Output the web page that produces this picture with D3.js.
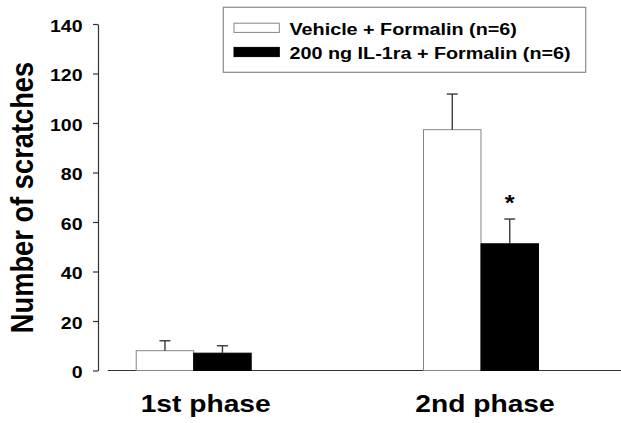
<!DOCTYPE html>
<html>
<head>
<meta charset="utf-8">
<script src="https://cdn.jsdelivr.net/npm/d3@7"></script>
<style>
  html, body { margin: 0; padding: 0; background: #fff; }
  svg { display: block; }
  text { font-family: "Liberation Sans", Arial, sans-serif; font-weight: bold; fill: #000; }
</style>
</head>
<body>
<svg id="chart" width="621" height="423"></svg>
<script>
// ---- data ----
const categories = ["1st phase", "2nd phase"];
const seriesNames = ["Vehicle + Formalin (n=6)", "200 ng IL-1ra + Formalin (n=6)"];
const vehicleMeans = [8, 97.3];
const vehicleErrors = [4, 14.4];
const il1raMeans = [7, 51.2];
const il1raErrors = [3, 10];
const significance = ["", "*"];           // marks above the IL-1ra bars
const yTicks = [0, 20, 40, 60, 80, 100, 120, 140];
const yLabel = "Number of scratches";

// ---- layout ----
const W = 621, H = 423;
const stretch = 1.15;  // horizontal text stretch seen in the reference
const svg = d3.select("#chart");

const y = d3.scaleLinear().domain([0, 140]).range([370.5, 24]);
const x = d3.scalePoint().domain(categories).range([193.7, 481]);
const xLabel = d3.scalePoint().domain(categories).range([205.7, 485]);
const sub = d3.scaleBand().domain(seriesNames).range([-57.5, 57.5]).paddingInner(0);
const fills = d3.scaleOrdinal().domain(seriesNames).range(["#ffffff", "#000000"]);
const strokes = d3.scaleOrdinal().domain(seriesNames).range(["#858585", "#000000"]);

const rows = [];
categories.forEach((c, i) => {
  rows.push({cat: c, s: seriesNames[0], v: vehicleMeans[i], e: vehicleErrors[i], sig: ""});
  rows.push({cat: c, s: seriesNames[1], v: il1raMeans[i], e: il1raErrors[i], sig: significance[i]});
});

// y axis (line + ticks from d3 axis, labels drawn separately for stretched text)
const yAxisG = svg.append("g").attr("transform", "translate(98,0)")
  .call(d3.axisLeft(y).tickValues(yTicks).tickSize(5).tickSizeOuter(0).tickFormat(""));
yAxisG.select(".domain").attr("stroke", "#333").attr("stroke-width", 1.2);
yAxisG.selectAll(".tick line").attr("stroke", "#333").attr("stroke-width", 1.2);
yAxisG.selectAll(".tick text").remove();

svg.append("g").selectAll("text").data(yTicks).join("text")
  .attr("text-anchor", "end")
  .attr("transform", d => `translate(82.5,${y(d) + 7.5}) scale(${stretch},1)`)
  .style("font-size", "17px")
  .text(d => d);

// x axis baseline (no ticks)
svg.append("line")
  .attr("x1", 107.7).attr("x2", W)
  .attr("y1", y(0)).attr("y2", y(0))
  .attr("stroke", "#333").attr("stroke-width", 1.2);

// bars
const bw = sub.bandwidth();
svg.append("g").selectAll("rect").data(rows).join("rect")
  .attr("x", d => x(d.cat) + sub(d.s))
  .attr("y", d => y(d.v))
  .attr("width", bw)
  .attr("height", d => y(0) - y(d.v))
  .attr("fill", d => fills(d.s))
  .attr("stroke", d => strokes(d.s))
  .attr("stroke-width", 1);

// error bars (upper only)
const eg = svg.append("g").attr("stroke", "#3a3a3a").attr("stroke-width", 1.4);
rows.forEach(d => {
  const cx = x(d.cat) + sub(d.s) + bw / 2;
  eg.append("line").attr("x1", cx).attr("x2", cx).attr("y1", y(d.v)).attr("y2", y(d.v + d.e));
  eg.append("line").attr("x1", cx - 5.5).attr("x2", cx + 5.5).attr("y1", y(d.v + d.e)).attr("y2", y(d.v + d.e));
});

// significance marks
rows.filter(d => d.sig).forEach(d => {
  const cx = x(d.cat) + sub(d.s) + bw / 2;
  svg.append("text")
    .attr("text-anchor", "middle")
    .attr("transform", `translate(${cx},${y(d.v + d.e) - 9.5}) scale(${stretch},1)`)
    .style("font-size", "22px")
    .text(d.sig);
});

// category labels
categories.forEach(c => {
  svg.append("text")
    .attr("text-anchor", "middle")
    .attr("transform", `translate(${xLabel(c)},411.5) scale(1.175,1)`)
    .style("font-size", "24px")
    .text(c);
});

// y axis title
svg.append("text")
  .attr("text-anchor", "middle")
  .attr("transform", `translate(33.3,197.5) scale(${stretch},1) rotate(-90)`)
  .style("font-size", "27.3px")
  .text(yLabel);

// legend
const lg = svg.append("g");
lg.append("rect")
  .attr("x", 223.3).attr("y", 7.3).attr("width", 362.4).attr("height", 65)
  .attr("fill", "#fff").attr("stroke", "#8a8a8a").attr("stroke-width", 1.2);
seriesNames.forEach((s, i) => {
  const cy = 27.8 + i * 24.2;
  lg.append("rect")
    .attr("x", 234).attr("y", cy - 4.6).attr("width", 45.3).attr("height", 9.2)
    .attr("fill", fills(s)).attr("stroke", strokes(s)).attr("stroke-width", 1);
  lg.append("text")
    .attr("transform", `translate(289.5,${cy + 7.3}) scale(${stretch},1)`)
    .style("font-size", "17.2px")
    .text(s);
});
</script>
</body>
</html>
